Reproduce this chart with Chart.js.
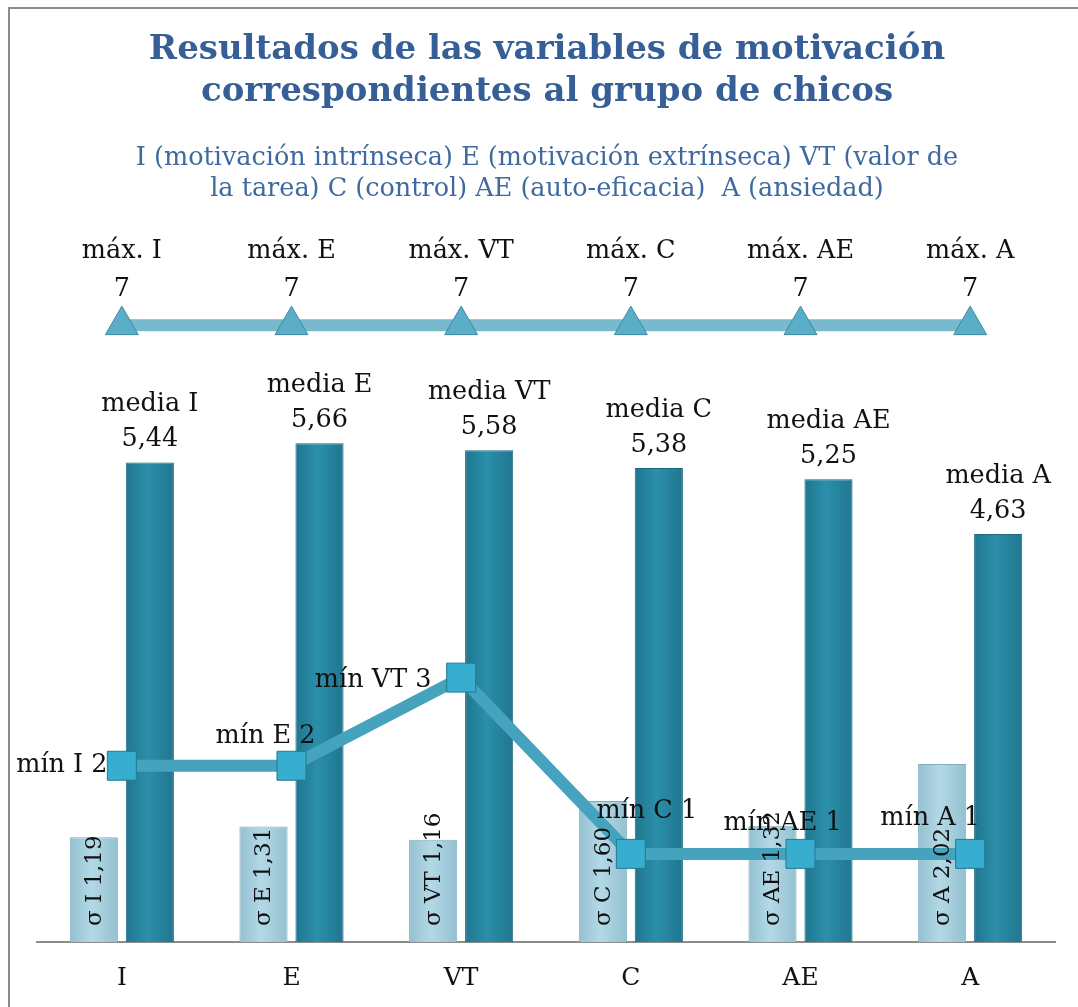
<!DOCTYPE html>
<html>
<head>
<meta charset="UTF-8">
<title>Resultados de las variables de motivación</title>
<script src="https://cdn.jsdelivr.net/npm/chart.js"></script>
<style>
  html, body { margin: 0; padding: 0; background: #fff; }
  #wrap { width: 1078px; height: 1007px; position: relative; }
</style>
</head>
<body>
<div id="wrap"><canvas id="chart"></canvas></div>
<script>
// data
const categories = ['I', 'E', 'VT', 'C', 'AE', 'A'];
const sigmaValues = [1.19, 1.31, 1.16, 1.60, 1.32, 2.02];
const mediaValues = [5.44, 5.66, 5.58, 5.38, 5.25, 4.63];
const maxValues = [7, 7, 7, 7, 7, 7];
const minValues = [2, 2, 3, 1, 1, 1];

const titleLines = ['Resultados de las variables de motivación', 'correspondientes al grupo de chicos'];
const subtitleLines = ['I (motivación intrínseca) E (motivación extrínseca) VT (valor de',
                       'la tarea) C (control) AE (auto-eficacia)  A (ansiedad)'];

// where the "mín" labels sit relative to their point (they were dragged by hand)
const minLabelShift = [[-60, 0], [-26, -29], [-88, 3], [16, -43], [-18, -31], [-40, -36]];

const FONT = '"DejaVu Serif", "Liberation Serif", serif';
const LABEL_SIZE = 25.5;
const fmt = v => (Number.isInteger(v) ? String(v) : v.toFixed(2).replace('.', ','));

// light left-to-right shading so the bars look a bit rounded, like the original
function barShade(chart, dark, mid) {
  const area = chart.chartArea;
  if (!area) return mid;
  return (ctx) => {
    const el = ctx.element;
    if (!el || el.width === undefined) return mid;
    const g = chart.ctx.createLinearGradient(el.x - el.width / 2, 0, el.x + el.width / 2, 0);
    g.addColorStop(0, dark);
    g.addColorStop(0.45, mid);
    g.addColorStop(1, dark);
    return g;
  };
}

const labelsPlugin = {
  id: 'labels',
  beforeDraw(chart) {
    const ctx = chart.ctx;
    ctx.save();
    ctx.fillStyle = '#fff';
    ctx.fillRect(0, 0, chart.width, chart.height);
    ctx.strokeStyle = '#8c8c8c';
    ctx.lineWidth = 2;
    ctx.strokeRect(9, 8, chart.width + 20, chart.height + 20);
    ctx.restore();
  },
  afterDatasetsDraw(chart) {
    const ctx = chart.ctx;
    ctx.save();
    ctx.fillStyle = '#111';
    ctx.textAlign = 'center';
    ctx.textBaseline = 'middle';
    ctx.font = LABEL_SIZE + 'px ' + FONT;

    // sigma bars: vertical text inside the bar
    ctx.font = '23px ' + FONT;
    chart.getDatasetMeta(0).data.forEach((bar, i) => {
      ctx.save();
      ctx.translate(bar.x + 1, bar.base - 16);
      ctx.rotate(-Math.PI / 2);
      ctx.textAlign = 'left';
      ctx.fillText('σ ' + categories[i] + ' ' + fmt(sigmaValues[i]), 0, 0);
      ctx.restore();
    });
    ctx.font = LABEL_SIZE + 'px ' + FONT;

    // media bars: two lines above the bar
    chart.getDatasetMeta(1).data.forEach((bar, i) => {
      ctx.fillText('media ' + categories[i], bar.x, bar.y - 58);
      ctx.fillText(fmt(mediaValues[i]), bar.x, bar.y - 23);
    });

    // max line
    chart.getDatasetMeta(2).data.forEach((pt, i) => {
      ctx.fillText('máx. ' + categories[i], pt.x, pt.y - 74);
      ctx.fillText(fmt(maxValues[i]), pt.x, pt.y - 36);
    });

    // min line
    chart.getDatasetMeta(3).data.forEach((pt, i) => {
      const s = minLabelShift[i];
      ctx.fillText('mín ' + categories[i] + ' ' + fmt(minValues[i]), pt.x + s[0], pt.y + s[1]);
    });
    ctx.restore();
  },
  afterDraw(chart) {
    const ctx = chart.ctx;
    const cx = 547;
    ctx.save();
    ctx.textAlign = 'center';
    ctx.textBaseline = 'middle';
    ctx.fillStyle = '#355f96';
    ctx.font = 'bold 34px ' + FONT;
    titleLines.forEach((t, i) => ctx.fillText(t, cx, 50 + i * 42));
    ctx.fillStyle = '#3f6aa0';
    ctx.font = '25.5px ' + FONT;
    subtitleLines.forEach((t, i) => ctx.fillText(t, cx, 158 + i * 31));
    ctx.restore();
  }
};

const chart = new Chart(document.getElementById('chart'), {
  type: 'bar',
  data: {
    labels: categories,
    datasets: [
      {
        label: 'σ',
        data: sigmaValues,
        backgroundColor: '#abd3e1',
        borderColor: '#82adbd',
        borderWidth: 1,
        categoryPercentage: 0.66,
        barPercentage: 0.86,
        order: 2
      },
      {
        label: 'media',
        data: mediaValues,
        backgroundColor: '#2a89a5',
        borderColor: '#1d6a80',
        borderWidth: 1,
        categoryPercentage: 0.66,
        barPercentage: 0.86,
        order: 2
      },
      {
        type: 'line',
        label: 'máx.',
        data: maxValues,
        borderColor: '#79b9cd',
        borderWidth: 12,
        pointStyle: 'triangle',
        pointRadius: 19,
        pointBackgroundColor: '#5aaec7',
        pointBorderColor: '#3d8aa3',
        pointBorderWidth: 1,
        order: 1
      },
      {
        type: 'line',
        label: 'mín',
        data: minValues,
        borderColor: '#45a3be',
        borderWidth: 12,
        pointStyle: 'rect',
        pointRadius: 20.5,
        pointBackgroundColor: '#37add0',
        pointBorderColor: '#27788f',
        pointBorderWidth: 1,
        order: 0
      }
    ]
  },
  options: {
    responsive: true,
    maintainAspectRatio: false,
    animation: false,
    layout: { padding: { top: 237, left: 37, right: 23, bottom: 0 } },
    plugins: {
      legend: { display: false },
      tooltip: { enabled: false }
    },
    scales: {
      x: {
        grid: { display: false, drawTicks: false },
        border: { color: '#8c8c8c', width: 2 },
        ticks: { color: '#111', font: { family: FONT, size: 25 }, padding: 21 },
        afterFit: axis => { axis.height = 65; }
      },
      y: {
        display: false,
        min: 0,
        max: 8
      }
    }
  },
  plugins: [labelsPlugin]
});

chart.data.datasets[0].backgroundColor = barShade(chart, '#94c0d0', '#b3d9e6');
chart.data.datasets[1].backgroundColor = barShade(chart, '#20768f', '#2b8fab');
chart.update();
</script>
</body>
</html>
